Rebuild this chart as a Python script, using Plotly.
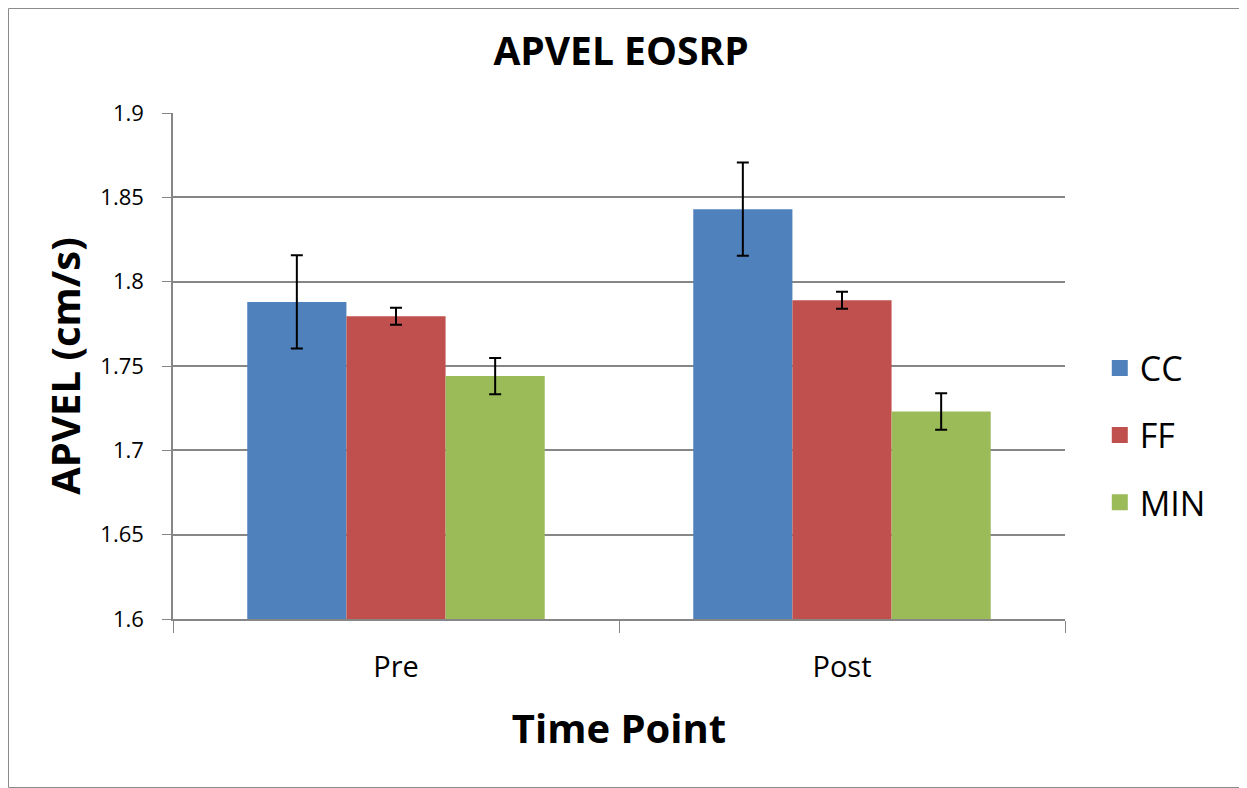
import plotly.graph_objects as go

categories = ["Pre", "Post"]
series_names = ["CC", "FF", "MIN"]
cc_values = [1.788, 1.843]
ff_values = [1.7795, 1.789]
min_values = [1.744, 1.723]
cc_err = [0.0276, 0.0277]
ff_err = [0.005, 0.005]
min_err = [0.0108, 0.0108]
colors = ["#4F81BD", "#C0504D", "#9BBB59"]
y_ticks = [1.6, 1.65, 1.7, 1.75, 1.8, 1.85, 1.9]
y_tick_labels = ["1.6", "1.65", "1.7", "1.75", "1.8", "1.85", "1.9"]

FONT = "Open Sans, sans-serif"

fig = go.Figure()
for name, vals, errs, col in zip(series_names, [cc_values, ff_values, min_values],
                                 [cc_err, ff_err, min_err], colors):
    fig.add_trace(go.Bar(
        x=categories, y=vals, name=name, marker=dict(color=col, line=dict(width=0)),
        error_y=dict(type="data", array=errs, visible=True, color="black", thickness=2, width=6),
        showlegend=False, legendgroup=name,
    ))
    fig.add_trace(go.Scatter(
        x=[None], y=[None], mode="markers", name=name, legendgroup=name,
        marker=dict(symbol="square", size=24, color=col),
    ))

W, H = 1239, 780
L, T, PW, PH = 165, 105, 892, 506
fig.update_layout(
    width=W, height=H,
    paper_bgcolor="white", plot_bgcolor="white",
    margin=dict(l=L, r=W - L - PW, t=T, b=H - T - PH),
    barmode="group", bargap=0.333, bargroupgap=0,
    font=dict(family=FONT, color="black"),
    title=dict(text="<b>APVEL EOSRP</b>", x=0.4948, xanchor="center", y=0.945, yanchor="middle",
               font=dict(size=39, family=FONT)),
    legend=dict(x=1.039, xanchor="left", y=0.363, yanchor="middle", font=dict(size=34),
                tracegroupgap=20, itemsizing="trace", bgcolor="rgba(0,0,0,0)"),
    shapes=[dict(type="rect", xref="paper", yref="paper",
                 x0=-(L - 0.5) / PW, x1=(W - 0.5 - L) / PW,
                 y0=-(H - T - PH - 0.5) / PH, y1=(H - 0.5 - (H - T - PH)) / PH,
                 line=dict(color="#8C8C8C", width=1))],
)
fig.update_xaxes(
    showline=True, linecolor="#868686", linewidth=1.5,
    ticks="outside", tickson="boundaries", ticklen=12, tickcolor="#868686",
    tickfont=dict(size=29), ticklabelstandoff=21,
    title=dict(text="<b>Time Point</b>", font=dict(size=40), standoff=31),
)
fig.update_yaxes(
    range=[1.6, 1.9], tickvals=y_ticks, ticktext=y_tick_labels,
    showline=True, linecolor="#868686", linewidth=1.5,
    ticks="outside", ticklen=9, tickcolor="#868686",
    showgrid=True, gridcolor="#868686", gridwidth=1.5, zeroline=False,
    tickfont=dict(size=22), ticklabelstandoff=14,
    title=dict(text="<b>APVEL (cm/s)</b>", font=dict(size=40), standoff=7),
)

fig.write_html("out.html")
